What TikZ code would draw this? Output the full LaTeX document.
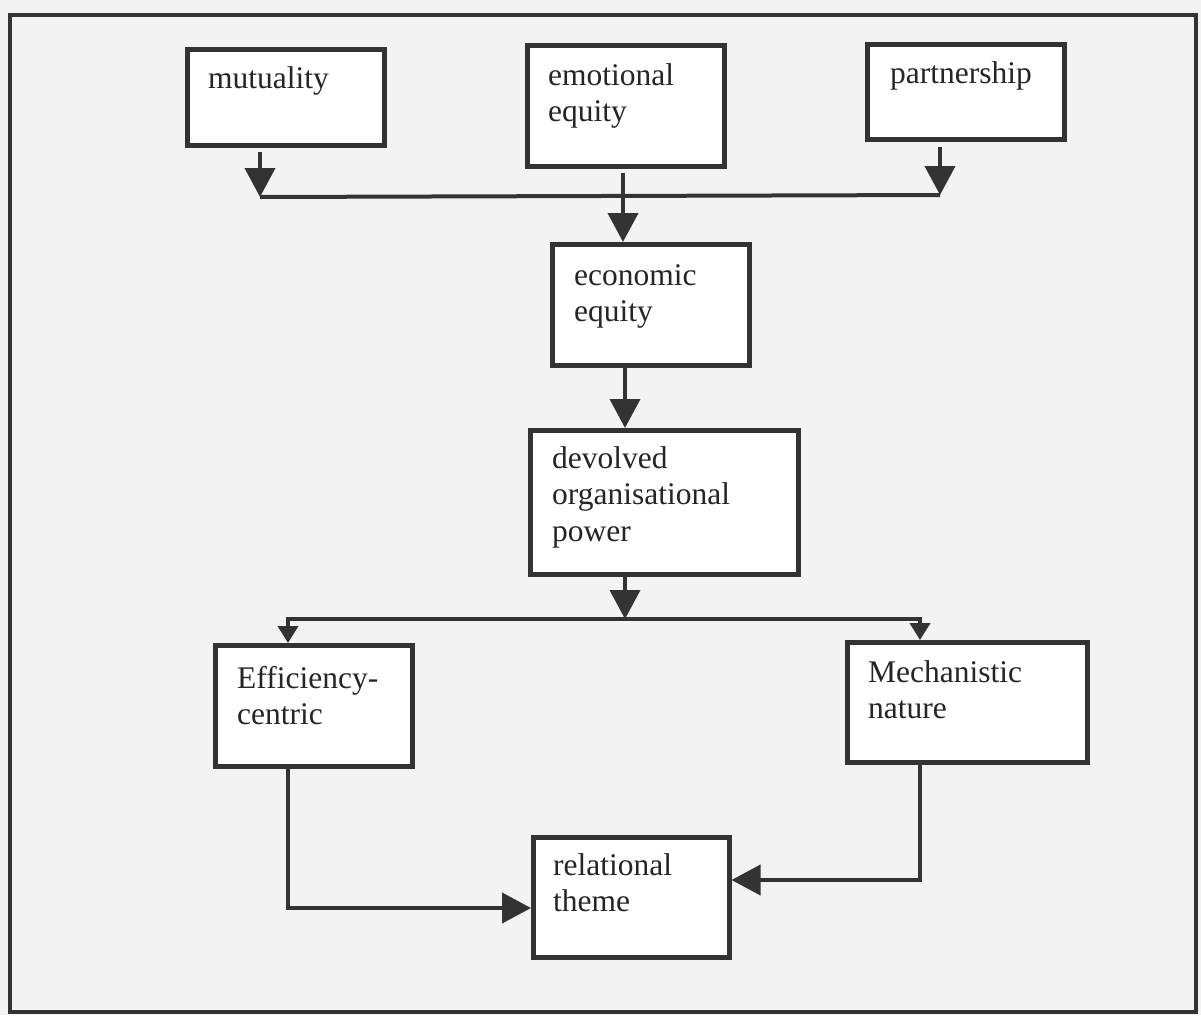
\documentclass[tikz,border=0pt]{standalone}
\usepackage{fontspec}
\setmainfont{Liberation Serif}
\usetikzlibrary{arrows.meta}
\definecolor{ink}{HTML}{333333}
\definecolor{txt}{HTML}{252525}
\definecolor{paper}{HTML}{F3F3F3}
\begin{document}
\begin{tikzpicture}[x=1pt,y=-1pt,
  box/.style={draw=ink, line width=4.5pt, fill=white, rectangle, inner sep=0pt, anchor=north west},
  lbl/.style={anchor=base west, inner sep=0pt, text width=300pt, align=left, text=txt,
              font=\fontsize{31.5}{36.5}\selectfont},
  link/.style={draw=ink, line width=4pt},
  bigtip/.style={link, -{Triangle[width=30pt,length=29pt]}},
  smalltip/.style={link, -{Triangle[width=20pt,length=17pt]}}
]
% page and frame
\useasboundingbox (0,0) rectangle (1201,1015);
\fill[paper] (0,0) rectangle (1201,1015);
\draw[ink, line width=4.5pt] (10,15) rectangle (1196,1012);

% boxes
\node[box, minimum width=197pt, minimum height=96pt]  (mut) at (185,47)  {};
\node[box, minimum width=197pt, minimum height=121pt] (emo) at (525,43)  {};
\node[box, minimum width=197pt, minimum height=95pt]  (par) at (865,42)  {};
\node[box, minimum width=197pt, minimum height=121pt] (eco) at (550,242) {};
\node[box, minimum width=268pt, minimum height=144pt] (dev) at (528,428) {};
\node[box, minimum width=197pt, minimum height=121pt] (eff) at (213,643) {};
\node[box, minimum width=240pt, minimum height=120pt] (mec) at (845,640) {};
\node[box, minimum width=196pt, minimum height=120pt] (rel) at (531,835) {};

% labels
\node[lbl] (mutT) at (208,88)  {mutuality};
\node[lbl] (emoT) at (548,85)  {emotional\\equity};
\node[lbl] (parT) at (890,83)  {partnership};
\node[lbl] (ecoT) at (574,285) {economic\\equity};
\node[lbl] (devT) at (552,468) {devolved\\organisational\\power};
\node[lbl] (effT) at (237,688) {Efficiency-\\centric};
\node[lbl] (mecT) at (868,682) {Mechanistic\\nature};
\node[lbl] (relT) at (553,875) {relational\\theme};

% connector guides
\coordinate (mutS) at (260,152);
\coordinate (busL) at (260,197);
\coordinate (parS) at (940,147);
\coordinate (busR) at (940,195);
\coordinate (emoS) at (623,173);
\coordinate (mid)  at (625,0);
\coordinate (hub)  at (625,619);
\coordinate (effX) at (288,0);
\coordinate (mecX) at (920,0);
\coordinate (inL)  at (0,908);
\coordinate (inR)  at (0,880);

% top merge
\draw[link] (busL) -- (busR);
\draw[bigtip] (mutS) -- (busL);
\draw[bigtip] (parS) -- (busR);
\draw[bigtip] (emoS) -- (emoS |- eco.north);

% central chain
\draw[bigtip] (eco.south -| mid) -- (dev.north -| mid);
\draw[bigtip] (dev.south -| mid) -- (hub);

% split
\draw[smalltip] (hub) -| (eff.north -| effX);
\draw[smalltip] (hub) -| (mec.north -| mecX);

% join
\draw[bigtip] (eff.south -| effX) |- (rel.west |- inL);
\draw[bigtip] (mec.south -| mecX) |- (rel.east |- inR);
\end{tikzpicture}
\end{document}
